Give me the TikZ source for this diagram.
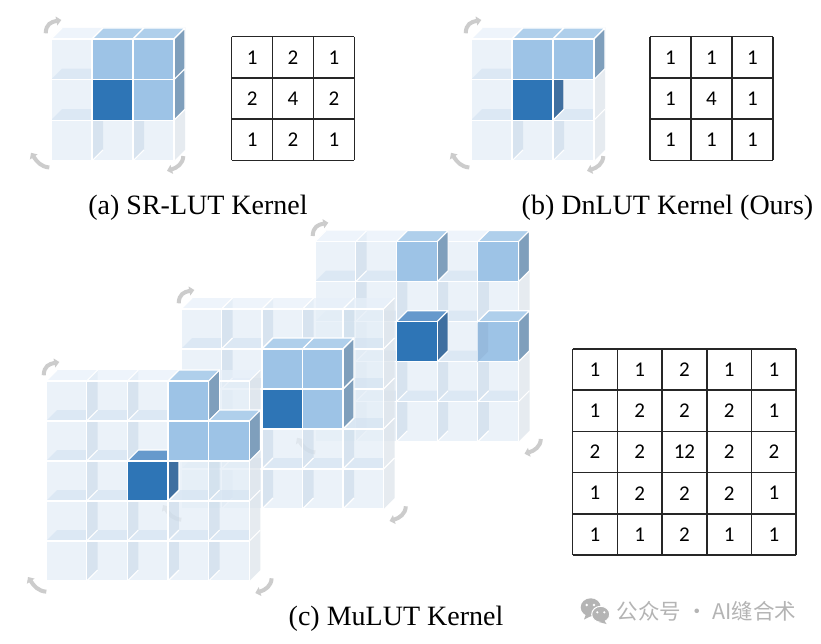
\documentclass[tikz,border=0pt]{standalone}
\usepackage{fontspec}
\setmainfont{Liberation Serif}
\newfontfamily\tabfont{Carlito}
\newfontfamily\wmfont{Noto Sans CJK SC}
\usetikzlibrary{arrows.meta}
\definecolor{lfront}{HTML}{E3EDF7}
\definecolor{lwall}{HTML}{C4D6E6}
\definecolor{lfloor}{HTML}{CFE0F1}
\definecolor{lside}{HTML}{DCE3EA}
\definecolor{ltop}{HTML}{E8F0FA}
\definecolor{bfront}{HTML}{9DC3E6}
\definecolor{btop}{HTML}{AFCFEB}
\definecolor{bside}{HTML}{7F9FBC}
\definecolor{bwall}{HTML}{96BADD}
\definecolor{dfront}{HTML}{2E75B6}
\definecolor{dtop}{HTML}{6699CC}
\definecolor{dside}{HTML}{3F6FA0}
\definecolor{barrow}{HTML}{CCCCCC}
\definecolor{wm}{HTML}{B4B4B4}
\tikzset{
  wline/.style={draw=white,line width=1.1pt,line join=round},
  lutface/.style={fill=#1,draw=white,line width=1.1pt,line join=round},
  rotarrow/.style={draw=barrow,line width=4pt,-{Triangle[length=5pt,width=9pt]}},
  tabcell/.style={font=\tabfont\fontsize{21}{21}\selectfont,inner sep=0pt,text=black},
  tabline/.style={draw=black!85,line width=1.5pt},
  capt/.style={font=\fontsize{28}{28}\selectfont,inner sep=0pt,anchor=base,text=black},
}
\newcommand{\lutgrid}[5]{% ox oy cw ch n
  \def\OX{#1}\def\OY{#2}\def\CW{#3}\def\CH{#4}%
  \pgfmathtruncatemacro{\LAST}{#5-1}%
  \ifnum#5=5 \def\TLX{3}\def\BLX{2}\def\BLY{4}\def\BRX{13}\def\BRY{2}\else\def\TLX{0}\def\BLX{0}\def\BLY{0}\def\BRX{0}\def\BRY{0}\fi
  \pgfmathsetmacro{\AX}{#1+\TLX}\pgfmathsetmacro{\AY}{#2}%
  \draw[rotarrow] (\AX-5.3,\AY-5.7) .. controls (\AX-5,\AY-15) and (\AX+0,\AY-17) .. (\AX+10.3,\AY-19);
  \pgfmathsetmacro{\BX}{#1+\BLX}\pgfmathsetmacro{\BY}{#2+#5*#4+\BLY}%
  \draw[rotarrow] (\BX-1.7,\BY+6.7) .. controls (\BX-10,\BY+6) and (\BX-14,\BY+1) .. (\BX-20,\BY-8);
  \pgfmathsetmacro{\RX}{#1+#5*#3+\BRX}\pgfmathsetmacro{\RY}{#2+#5*#4+\BRY}%
  \draw[rotarrow] (\RX+9.3,\RY-4.7) .. controls (\RX+9,\RY+3) and (\RX+3,\RY+7) .. (\RX-7,\RY+10);
  \foreach \r in {0,...,\LAST}{\foreach \c in {0,...,\LAST}{%
    \pgfmathsetmacro{\X}{#1+\c*#3}\pgfmathsetmacro{\Y}{#2+\r*#4}%
    \pgfmathsetmacro{\XR}{\X+#3}\pgfmathsetmacro{\YB}{\Y+#4}%
    \fill[white,fill opacity=.25] (\X,\Y) rectangle (\XR,\YB);
    \fill[lfront,fill opacity=.7] (\X,\Y) rectangle (\XR,\YB);
    \ifnum\r<\LAST
      \fill[lfloor,fill opacity=.5] (\X,\YB) -- (\X+11,\YB-11) -- (\XR,\YB-11) -- (\XR,\YB) -- cycle;
    \fi
    \ifnum\c>0
      \ifnum\r=0
        \fill[lwall,fill opacity=.5] (\X,\Y) -- (\X+11,\Y-11) -- (\X+11,\YB-11) -- (\X,\YB) -- cycle;
      \else
        \fill[lwall,fill opacity=.5] (\X,\Y) -- (\X+11,\Y) -- (\X+11,\YB-11) -- (\X,\YB) -- cycle;
      \fi
    \fi
    \ifnum\r=0
      \fill[ltop,fill opacity=.7] (\X,\Y) -- (\X+11,\Y-11) -- (\XR+11,\Y-11) -- (\XR,\Y) -- cycle;
      \draw[wline] (\X,\Y) -- (\X+11,\Y-11);
    \fi
    \ifnum\c=\LAST
      \fill[lside,fill opacity=.7] (\XR,\Y) -- (\XR+11,\Y-11) -- (\XR+11,\YB-11) -- (\XR,\YB) -- cycle;
      \draw[wline] (\XR,\Y) -- (\XR+11,\Y-11);
    \fi
    \ifnum\c>0 \draw[wline] (\X,\YB) -- (\X+11,\YB-11); \fi
    \draw[wline] (\X,\Y) rectangle (\XR,\YB);
  }}
}
\newcommand{\lutcube}[5]{%
  \pgfmathsetmacro{\X}{\OX+#1*\CW}\pgfmathsetmacro{\Y}{\OY+#2*\CH}%
  \pgfmathsetmacro{\XR}{\X+\CW}\pgfmathsetmacro{\YB}{\Y+\CH}%
  \def\tmpa{#4}\def\tmpn{none}%
  \ifx\tmpa\tmpn\else
    \path[lutface=#4] (\X,\Y) -- (\X+11,\Y-11) -- (\XR+11,\Y-11) -- (\XR,\Y) -- cycle;
  \fi
  \def\tmpa{#5}%
  \ifx\tmpa\tmpn\else
    \path[lutface=#5] (\XR,\Y) -- (\XR+11,\Y-11) -- (\XR+11,\YB-11) -- (\XR,\YB) -- cycle;
  \fi
  \path[lutface=#3] (\X,\Y) rectangle (\XR,\YB);
}
\newcommand{\luttable}[5]{%
  \foreach \v [count=\i from 0] in \tabvals {
    \pgfmathtruncatemacro{\rr}{int(\i/\tabn)}
    \pgfmathtruncatemacro{\cc}{\i-\rr*\tabn}
    \node[tabcell] (#1-\rr-\cc) at ({#2+(\cc+.5)*#4},{#3+(\rr+.5)*#5}) {\v};
  }
  \foreach \k in {0,...,\tabn}{
    \draw[tabline] ({#2+\k*#4},#3) -- ({#2+\k*#4},{#3+\tabn*#5});
    \draw[tabline] (#2,{#3+\k*#5}) -- ({#2+\tabn*#4},{#3+\k*#5});
  }
}
\begin{document}
\begin{tikzpicture}[x=1pt,y=-1pt]
\useasboundingbox (0,0) rectangle (821,644);
\fill[white] (0,0) rectangle (821,644);
% (a)
\lutgrid{51}{39}{41}{40.6}{3}
\lutcube{1}{1}{dfront}{none}{none}
\lutcube{2}{1}{bfront}{none}{bside}
\lutcube{1}{0}{bfront}{btop}{none}
\lutcube{2}{0}{bfront}{btop}{bside}
% (b)
\lutgrid{471}{39}{41}{40.6}{3}
\lutcube{1}{1}{dfront}{none}{dside}
\lutcube{1}{0}{bfront}{btop}{none}
\lutcube{2}{0}{bfront}{btop}{bside}
% tables
\def\tabn{3}
\def\tabvals{1,2,1,2,4,2,1,2,1}
\luttable{ta}{231.7}{36.7}{40.9}{41.2}
\def\tabvals{1,1,1,1,4,1,1,1,1}
\luttable{tb}{650}{36.7}{41}{41.2}
\def\tabn{5}
\def\tabvals{1,1,2,1,1,1,2,2,2,1,2,2,12,2,2,1,2,2,2,1,1,1,2,1,1}
\luttable{tc}{572.7}{349}{44.7}{41.2}
% (c) back layer
\lutgrid{315}{241.7}{40.7}{40}{5}
\lutcube{2}{2}{dfront}{dtop}{dside}
\lutcube{2}{0}{bfront}{btop}{bside}
\lutcube{4}{2}{bfront}{btop}{bside}
\lutcube{4}{0}{bfront}{btop}{bside}
\fill[bwall] (477.5,322.5) -- (488,322.5) -- (488,351.5) -- (477.5,362) -- cycle;
% (c) middle layer
\lutgrid{181}{309}{40.5}{40}{5}
\lutcube{2}{2}{dfront}{none}{none}
\lutcube{3}{2}{bfront}{none}{bside}
\lutcube{2}{1}{bfront}{btop}{none}
\lutcube{3}{1}{bfront}{btop}{bside}
% (c) front layer
\lutgrid{46}{381}{40.66}{40}{5}
\lutcube{2}{2}{dfront}{dtop}{dside}
\lutcube{3}{0}{bfront}{btop}{bside}
\lutcube{4}{1}{bfront}{btop}{bside}
\lutcube{3}{1}{bfront}{none}{none}
% captions
\node[capt] (capa) at (198,214.5) {(a) SR-LUT Kernel};
\node[capt] (capb) at (667.5,214.5) {(b) DnLUT Kernel (Ours)};
\node[capt] (capc) at (396,625) {(c) MuLUT Kernel};
% watermark
\fill[wm] (590.7,607.3) ellipse (10 and 9);
\fill[wm] (586,614) -- (584,619.5) -- (591,616) -- cycle;
\draw[white,fill=wm,line width=1pt] (600.7,614.3) ellipse (9 and 8);
\fill[wm] (604,620) -- (606.5,624) -- (599,622) -- cycle;
\fill[white] (586.7,605) circle (1.3) (594,605) circle (1.3) (597.3,612.3) circle (1.2) (604.3,612.3) circle (1.2);
\node[font=\wmfont\fontsize{21.5}{22}\selectfont,text=wm,inner sep=0pt,anchor=west] (wmark) at (616.5,611.5) {公众号 · AI缝合术};
\end{tikzpicture}
\end{document}
